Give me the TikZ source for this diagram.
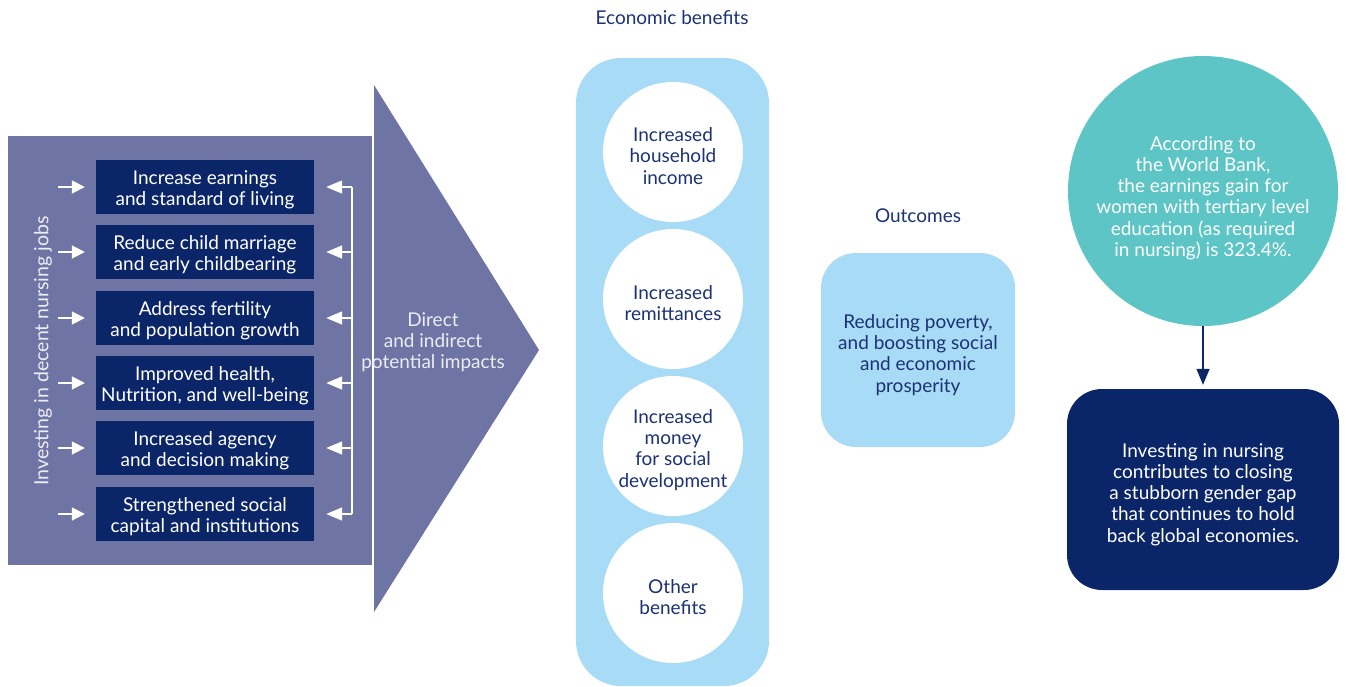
\documentclass[tikz,border=0pt]{standalone}
\usepackage{fontspec}
\setmainfont{Lato}
\usetikzlibrary{arrows.meta}
\definecolor{slate}{HTML}{6E75A5}
\definecolor{navy}{HTML}{0B2668}
\definecolor{navytext}{HTML}{1C3275}
\definecolor{skyblue}{HTML}{A8DBF5}
\definecolor{teal}{HTML}{5DC5C5}
\definecolor{paletext}{HTML}{ECEDF5}
\tikzset{
  txt/.style={font=\fontsize{19}{21.2}\selectfont, align=center, inner sep=0pt},
  impact/.style={fill=navy, minimum width=218pt, minimum height=54pt, inner sep=0pt},
  impacttext/.style={txt, text=white, yshift=-3pt},
  bencircle/.style={circle, fill=white, minimum size=140pt, inner sep=0pt},
  bentext/.style={txt, text=navytext, yshift=-4pt},
  title/.style={txt, text=navytext},
  warrow/.style={draw=white, line width=1.8pt, -{Triangle[length=13pt,width=13pt]}},
  barrow/.style={draw=white, line width=1.4pt, -{Triangle[length=16pt,width=13pt]}},
  narrow/.style={draw=navy, line width=1.4pt, -{Triangle[length=16pt,width=13pt]}}
}
\begin{document}
\begin{tikzpicture}[x=1pt,y=-1pt]
\useasboundingbox (0,0) rectangle (1346,686);
% left panel
\fill[slate] (8,136) rectangle (372,565);
\fill[slate] (374,85) -- (539,350) -- (374,612) -- cycle;
\node[txt, font=\fontsize{19.5}{21}\selectfont, text=paletext, rotate=90] (invest) at (43,351) {Investing in decent nursing jobs};
\node[txt, text=paletext] (direct) at (433,342) {Direct\\and indirect\\potential impacts};
% impact boxes
\foreach \i/\y/\t in {1/187/{Increase earnings\\and standard of living},
                      2/252/{Reduce child marriage\\and early childbearing},
                      3/318/{Address fertility\\and population growth},
                      4/383/{Improved health,\\Nutrition, and well-being},
                      5/448/{Increased agency\\and decision making},
                      6/514/{Strengthened social\\capital and institutions}}{
  \node[impact] (b\i) at (205,\y) {};
  \node[impacttext] (bt\i) at (b\i) {\t};
  \coordinate (l\i) at (58,\y);
  \coordinate (r\i) at (352,\y);
  \draw[warrow, shorten >=11pt] (l\i) -- (b\i.west);
  \draw[barrow, shorten >=12pt] (r\i) -- (b\i.east);
}
\draw[white, line width=1.4pt] (r1) -- (r6);
% economic benefits
\node[title] (ectitle) at (672,18) {Economic benefits};
\fill[skyblue, rounded corners=45pt] (576,58) rectangle (769,686);
\node[bencircle] (c1) at (673,152) {};
\node[bencircle] (c2) at (673,299) {};
\node[bencircle] (c3) at (673,446) {};
\node[bencircle] (c4) at (673,593) {};
\node[bentext] (ct1) at (c1) {Increased\\household\\income};
\node[bentext] (ct2) at (c2) {Increased\\remittances};
\node[bentext] (ct3) at (c3) {Increased\\money\\for social\\development};
\node[bentext] (ct4) at (c4) {Other\\benefits};
% outcomes
\node[title] (outtitle) at (918,216) {Outcomes};
\node[fill=skyblue, rounded corners=35pt, minimum width=194pt, minimum height=194pt, inner sep=0pt] (out) at (918,350) {};
\node[txt, text=navytext, yshift=-5pt] (outt) at (out) {Reducing poverty,\\and boosting social\\and economic\\prosperity};
% right
\node[circle, fill=teal, minimum size=270pt, inner sep=0pt] (wb) at (1203,191) {};
\node[txt, text=white, yshift=-7pt] (wbt) at (wb) {According to\\the World Bank,\\the earnings gain for\\women with tertiary level\\education (as required\\in nursing) is 323.4\%.};
\node[fill=navy, rounded corners=35pt, minimum width=272pt, minimum height=201pt, inner sep=0pt] (gap) at (1203,489.5) {};
\node[txt, text=white, yshift=-5pt] (gapt) at (gap) {Investing in nursing\\contributes to closing\\a stubborn gender gap\\that continues to hold\\back global economies.};
\draw[narrow, shorten >=4pt] (wb.south) -- (gap.north);
\end{tikzpicture}
\end{document}
